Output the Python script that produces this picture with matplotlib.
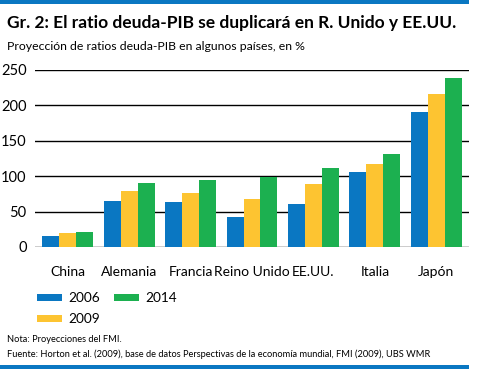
import numpy as np
import matplotlib
matplotlib.use("Agg")
import matplotlib.pyplot as plt
from matplotlib.patches import Rectangle

# data
paises = ["China", "Alemania", "Francia", "Reino Unido", "EE.UU.", "Italia", "Japón"]
anios = ["2006", "2009", "2014"]
v2006 = [16, 65, 64, 43, 61, 106, 191]
v2009 = [20, 79, 76, 68, 89, 117, 216]
v2014 = [21, 90, 95, 99, 112, 131, 239]
yticks = [0, 50, 100, 150, 200, 250]

colores = ["#0a77c2", "#fdc431", "#1cb050"]
azul = "#0a77c2"

plt.rcParams["font.family"] = ["Lato", "DejaVu Sans"]

fig = plt.figure(figsize=(4.87, 3.69), dpi=100)

# blue bands top and bottom
fig.add_artist(Rectangle((0, 1 - 4/369), 469/487, 4/369, transform=fig.transFigure,
                         color=azul, lw=0))
fig.add_artist(Rectangle((0, 0), 469/487, 4/369, transform=fig.transFigure,
                         color=azul, lw=0))

fig.text(7/487, 1 - 23/369, "Gr. 2: El ratio deuda-PIB se duplicará en R. Unido y EE.UU.",
         fontsize=12.5, fontweight="bold", va="center", ha="left")
fig.text(7/487, 1 - 47/369, "Proyección de ratios deuda-PIB en algunos países, en %",
         fontsize=8.8, va="center", ha="left")

ax = fig.add_axes([35/487, 1 - 247/369, 434/487, 177/369])
x = np.arange(len(paises))
w = 0.276
for i, (vals, c, lab) in enumerate(zip([v2006, v2009, v2014], colores, anios)):
    ax.bar(x + (i - 1) * w, vals, w, color=c, label=lab, zorder=3, lw=0)

for t in yticks:
    ax.axhline(t, color="black", lw=1, zorder=1)

ax.set_xlim(-0.53, len(paises) - 0.47)
ax.set_ylim(0, 250)
ax.set_yticks(yticks)
ax.set_yticklabels([str(t) for t in yticks], fontsize=10.5)
ax.set_xticks(x)
ax.set_xticklabels(paises, fontsize=10)
ax.tick_params(axis="both", length=0)
ax.tick_params(axis="y", pad=6)
ax.tick_params(axis="x", pad=14)
for s in ax.spines.values():
    s.set_visible(False)

leg = fig.legend(loc="upper left", bbox_to_anchor=(25/487, 1 - 280/369), ncol=2,
                 frameon=False, fontsize=9.8, handlelength=1.85, handleheight=0.45,
                 handletextpad=0.45, columnspacing=1.0, labelspacing=0.65)

fig.text(7/487, 1 - 339/369, "Nota: Proyecciones del FMI.", fontsize=6.7, va="center")
fig.text(7/487, 1 - 354/369,
         "Fuente: Horton et al. (2009), base de datos Perspectivas de la economía mundial, FMI (2009), UBS WMR",
         fontsize=6.7, va="center")

fig.savefig("out.png", dpi=100)
